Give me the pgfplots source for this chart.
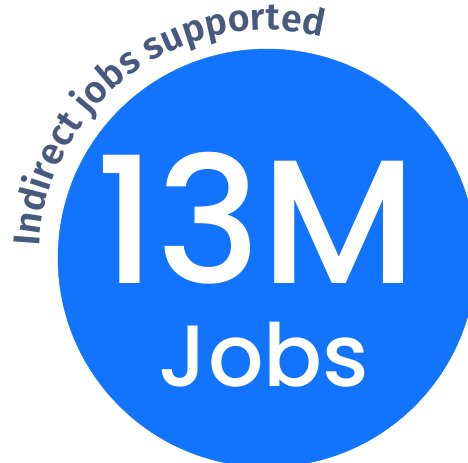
\documentclass[border=0pt]{standalone}
\usepackage{fontspec}
\usepackage{pgfplots}
\pgfplotsset{compat=1.18}
\usetikzlibrary{decorations.text}
\newfontfamily\popfont{Poppins Medium}
\newfontfamily\curvefont{Fira Sans SemiBold}
\definecolor{jobblue}{HTML}{1273FC}
\definecolor{slate}{HTML}{475A7E}

\begin{document}
\begin{tikzpicture}
  \begin{axis}[
    name=ax,
    hide axis,
    scale only axis,
    width=468bp, height=463bp,
    xmin=0, xmax=468, ymin=0, ymax=463,
    clip marker paths=true,
  ]
    % the big bubble: centre and radius (pixels)
    \addplot[only marks, color=jobblue, mark=*, mark size=209bp,
      mark options={fill=jobblue, draw=jobblue}] coordinates {(267,205)};

    \node[anchor=base, inner sep=0pt, text=white]
      at (axis cs:256,179) {\popfont\fontsize{176bp}{176bp}\selectfont 13M};
    \node[anchor=base, inner sep=0pt, text=white]
      at (axis cs:264,76) {\popfont\fontsize{87bp}{87bp}\selectfont Jobs};

    \coordinate (c) at (axis cs:267,205);
  \end{axis}
  \path[decorate, decoration={text along path, text align=center,
      text={|\curvefont\fontsize{37.5bp}{37.5bp}\selectfont\color{slate}|Indirect jobs supported}}]
    ([shift={(192:228bp)}]c) arc[start angle=192, end angle=61, radius=228bp];
  \pgfresetboundingbox
  \path (ax.south west) rectangle (ax.north east);
\end{tikzpicture}
\end{document}
